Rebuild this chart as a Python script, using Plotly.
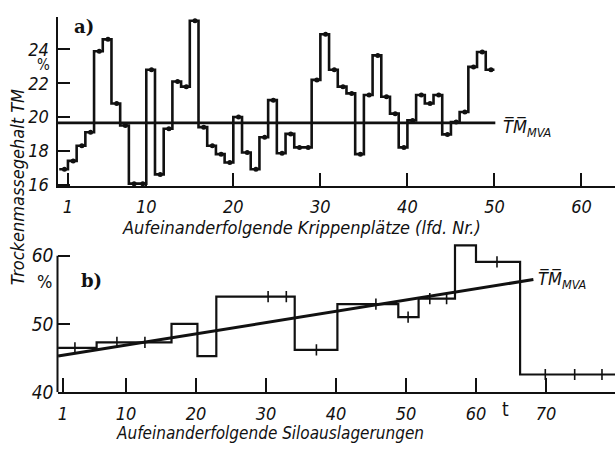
import plotly.graph_objects as go

W, H = 615, 453

# ---------------- panel a: Krippenplätze ----------------
krippen_nr = list(range(1, 51))
krippen_tm = [16.9, 17.4, 18.3, 19.1, 23.9, 24.6, 20.8, 19.5, 16.05, 16.05,
              22.8, 16.6, 19.3, 22.1, 21.8, 25.7, 19.4, 18.3, 17.8, 17.3,
              20.0, 17.9, 16.9, 18.8, 21.0, 17.85, 19.0, 18.2, 18.2, 22.2,
              24.9, 22.8, 21.8, 21.4, 17.8, 21.3, 23.65, 21.2, 20.2, 18.2,
              19.8, 21.3, 20.8, 21.3, 18.97, 19.7, 20.3, 22.97, 23.85, 22.8]
tm_mean_a = 19.65
a_xticks = [1, 10, 20, 30, 40, 50, 60]
a_yticks = [16, 18, 20, 22, 24]

# ---------------- panel b: Siloauslagerungen ----------------
silo_t_edges = [0.3, 5.8, 16.5, 20.2, 22.9, 34.1, 40.2, 48.9, 51.8, 57.0, 60.0, 66.3, 82.0]
silo_tm = [46.5, 47.3, 50.0, 45.3, 54.0, 46.2, 52.9, 51.0, 53.7, 61.5, 59.1, 42.6]
sample_t = [2.7, 8.7, 12.7, 30.3, 32.9, 37.2, 45.7, 50.3, 53.4, 55.8, 63.0, 69.9, 74.1, 78.0]
trend_t = [0.3, 68.2]
trend_tm = [45.3, 56.5]
b_xticks = [1, 10, 20, 30, 40, 50, 60, 70]
b_yticks = [40, 50, 60]

FONT = "DejaVu Sans Condensed, Liberation Sans Narrow, DejaVu Sans, sans-serif"
INK = "#111111"


def px(x):
    return x / W


def py(y):
    return 1 - y / H


fig = go.Figure()

# panel a steps
a_x = [n - 1 for n in krippen_nr] + [krippen_nr[-1]]
a_y = krippen_tm + [krippen_tm[-1]]
fig.add_trace(go.Scatter(x=a_x, y=a_y, mode="lines", line=dict(shape="hv", color=INK, width=2.6),
                         xaxis="x", yaxis="y", showlegend=False, hoverinfo="skip"))
fig.add_trace(go.Scatter(x=[n - 0.4 for n in krippen_nr], y=krippen_tm, mode="markers",
                         marker=dict(color=INK, size=5), xaxis="x", yaxis="y",
                         showlegend=False, hoverinfo="skip"))
fig.add_trace(go.Scatter(x=[-0.2, krippen_nr[-1] + 0.1], y=[tm_mean_a, tm_mean_a], mode="lines",
                         line=dict(color=INK, width=2.6), xaxis="x", yaxis="y",
                         showlegend=False, hoverinfo="skip"))

# panel b steps
b_y = silo_tm + [silo_tm[-1]]
fig.add_trace(go.Scatter(x=silo_t_edges, y=b_y, mode="lines", line=dict(shape="hv", color=INK, width=2.2),
                         xaxis="x2", yaxis="y2", showlegend=False, hoverinfo="skip"))


def step_value(t):
    for i in range(len(silo_tm)):
        if silo_t_edges[i] <= t < silo_t_edges[i + 1]:
            return silo_tm[i]
    return silo_tm[-1]


fig.add_trace(go.Scatter(x=sample_t, y=[step_value(t) for t in sample_t], mode="markers",
                         marker=dict(symbol="line-ns", size=8, line=dict(color=INK, width=1.6)),
                         xaxis="x2", yaxis="y2", showlegend=False, hoverinfo="skip"))
fig.add_trace(go.Scatter(x=trend_t, y=trend_tm, mode="lines", line=dict(color=INK, width=3),
                         xaxis="x2", yaxis="y2", showlegend=False, hoverinfo="skip"))

tf19 = dict(family=FONT, size=19, color=INK, style="italic")
tf18 = dict(family=FONT, size=18, color=INK, style="italic")
common = dict(showgrid=False, zeroline=False, ticks="inside", tickcolor=INK, tickwidth=1.5,
              showline=True, linecolor=INK, linewidth=2)

fig.update_layout(
    width=W, height=H, margin=dict(l=0, r=0, t=0, b=0),
    paper_bgcolor="white", plot_bgcolor="white",
    xaxis=dict(domain=[px(57.5), 1], anchor="y", range=[-0.2, 63.85], tickvals=a_xticks,
               ticklen=13, ticklabelstandoff=3, tickfont=tf18, **common),
    yaxis=dict(domain=[py(191), py(17)], anchor="x", range=[15.89, 25.95], tickvals=a_yticks,
               ticklen=12, ticklabelstandoff=3, tickfont=tf18, **common),
    xaxis2=dict(domain=[px(57.5), 1], anchor="y2", range=[0.21, 79.86], tickvals=b_xticks,
                ticklen=14, ticklabelstandoff=4, tickfont=tf18, **common),
    yaxis2=dict(domain=[py(402), py(248)], anchor="x2", range=[40, 62], tickvals=b_yticks,
                ticklen=12, ticklabelstandoff=3, tickfont=tf19, **{**common, "showline": False}),
)

# y axis line of panel b only up to 60
fig.add_shape(type="line", xref="x2 domain", x0=0, x1=0, yref="y2", y0=40, y1=60,
              line=dict(color=INK, width=2))

ital = dict(family=FONT, color=INK, style="italic")
ann = [
    dict(x=px(301), y=py(233), text="Aufeinanderfolgende Krippenplätze (lfd. Nr.)", font=dict(size=18, **ital)),
    dict(x=px(270), y=py(444), text="Aufeinanderfolgende Siloauslagerungen", font=dict(size=17, **ital)),
    dict(x=px(17), y=py(192), text="Trockenmassegehalt TM", textangle=-90, font=dict(size=18, **ital)),
    dict(x=px(43), y=py(67), text="%", font=dict(size=15, family=FONT, color=INK)),
    dict(x=px(44), y=py(289), text="%", font=dict(size=18, family=FONT, color=INK)),
    dict(x=px(84), y=py(27), text="<b>a)</b>", font=dict(size=18, family="DejaVu Serif", color=INK)),
    dict(x=px(91), y=py(287), text="<b>b)</b>", font=dict(size=18, family="DejaVu Serif", color=INK)),
    dict(x=px(505), y=py(419), text="t", font=dict(size=19, family=FONT, color=INK)),
    dict(x=px(501), y=py(131), xanchor="left", text="T\u0305M\u0305<sub>MVA</sub>", font=dict(size=18, **ital)),
    dict(x=px(536), y=py(287), xanchor="left", text="T\u0305M\u0305<sub>MVA</sub>", font=dict(size=18, **ital)),
]
for a in ann:
    a.setdefault("xanchor", "center")
    fig.add_annotation(xref="paper", yref="paper", showarrow=False, yanchor="middle", **a)

fig.write_html("out.html")
